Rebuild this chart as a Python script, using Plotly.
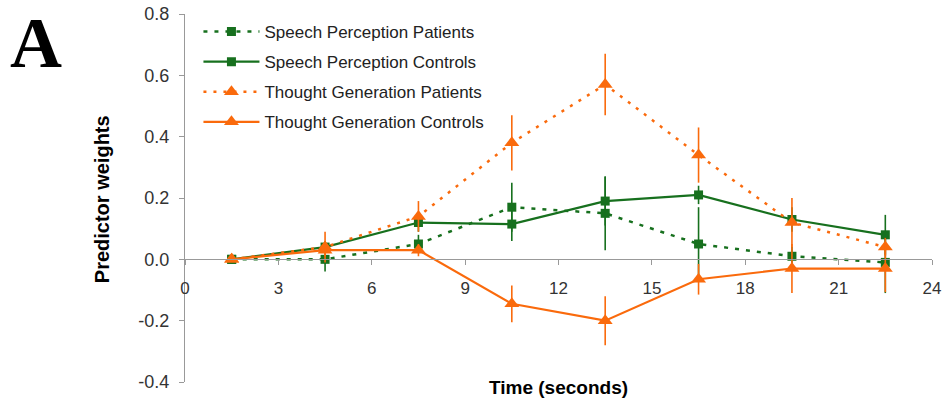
import plotly.graph_objects as go

# ---- data ----
time_s = [1.5, 4.5, 7.5, 10.5, 13.5, 16.5, 19.5, 22.5]

sp_patients = [0.00, 0.00, 0.05, 0.17, 0.15, 0.05, 0.01, -0.01]
sp_patients_err = [0.00, 0.04, 0.03, 0.08, 0.12, 0.12, 0.03, 0.10]

sp_controls = [0.00, 0.04, 0.12, 0.115, 0.19, 0.21, 0.13, 0.08]
sp_controls_err = [0.00, 0.02, 0.03, 0.055, 0.08, 0.03, 0.04, 0.065]

tg_patients = [0.00, 0.04, 0.14, 0.38, 0.57, 0.34, 0.12, 0.04]
tg_patients_err = [0.00, 0.05, 0.05, 0.09, 0.10, 0.09, 0.08, 0.03]

tg_controls = [0.00, 0.03, 0.03, -0.145, -0.20, -0.065, -0.03, -0.03]
tg_controls_err = [0.00, 0.02, 0.02, 0.06, 0.08, 0.05, 0.08, 0.077]

names = ["Speech Perception Patients", "Speech Perception Controls",
         "Thought Generation Patients", "Thought Generation Controls"]

x_ticks = [0, 3, 6, 9, 12, 15, 18, 21, 24]
y_ticks = [-0.4, -0.2, 0.0, 0.2, 0.4, 0.6, 0.8]
y_tick_text = ["-0.4", "-0.2", "0.0", "0.2", "0.4", "0.6", "0.8"]

GREEN = "#17701e"
ORANGE = "#fa6a0c"

series = [
    (names[0], sp_patients, sp_patients_err, GREEN, "4px,7px", "square", 9, 2.5),
    (names[1], sp_controls, sp_controls_err, GREEN, "solid", "square", 9, 2.2),
    (names[2], tg_patients, tg_patients_err, ORANGE, "3px,7px", "triangle-up", 13, 2.5),
    (names[3], tg_controls, tg_controls_err, ORANGE, "solid", "triangle-up", 13, 2.2),
]

fig = go.Figure()
for i, (nm, ys, es, col, dash, sym, msize, lw) in enumerate(series):
    fig.add_trace(go.Scatter(
        x=time_s, y=ys, name=nm, mode="lines+markers",
        legendgroup=f"g{i}",
        line=dict(color=col, width=lw, dash=dash),
        marker=dict(color=col, symbol=sym, size=msize, line=dict(width=0)),
        error_y=dict(type="data", array=es, visible=True, color=col,
                     thickness=1.6, width=0),
    ))

fig.update_layout(
    width=945, height=410,
    margin=dict(l=185, r=13, t=14, b=28),
    paper_bgcolor="white", plot_bgcolor="white",
    font=dict(family="Liberation Sans, Arial, sans-serif", size=17, color="#333"),
    showlegend=True,
    legend=dict(
        x=0.018, y=1.0, xanchor="left", yanchor="top",
        bgcolor="rgba(0,0,0,0)", borderwidth=0,
        font=dict(size=17, color="#222"),
        itemwidth=56, tracegroupgap=5,
    ),
    xaxis=dict(
        range=[0, 24], tickvals=x_ticks, ticktext=[str(v) for v in x_ticks],
        showgrid=False, zeroline=False, automargin=False,
        showline=True, linecolor="#999", linewidth=1.2,
        ticks="outside", ticklen=5, tickcolor="#999",
        anchor="free", position=1/3,
        ticklabelstandoff=8,
        tickfont=dict(size=17, color="#333"),
    ),
    yaxis=dict(
        range=[-0.4, 0.8], tickvals=y_ticks, ticktext=y_tick_text,
        showgrid=False, zeroline=False, automargin=False,
        showline=True, linecolor="#999", linewidth=1.2,
        ticks="outside", ticklen=5, tickcolor="#999",
        ticklabelstandoff=6,
        tickfont=dict(size=18, color="#333"),
    ),
    annotations=[
        dict(text="<b>A</b>", xref="paper", yref="paper", x=-0.2, y=1.036,
             xanchor="center", yanchor="top", showarrow=False,
             font=dict(family="Liberation Serif, Times New Roman, serif", size=72, color="black")),
        dict(text="<b>Predictor weights</b>", xref="paper", yref="paper",
             x=-0.111, y=0.497, xanchor="center", yanchor="middle", textangle=-90,
             showarrow=False, font=dict(size=20, color="black")),
        dict(text="<b>Time (seconds)</b>", xref="paper", yref="paper",
             x=0.5, y=-0.016, xanchor="center", yanchor="middle",
             showarrow=False, font=dict(size=19, color="black")),
    ],
)

fig.write_html("out.html",
               config={"displayModeBar": False},
               post_script="document.body.style.margin='0';document.body.style.overflow='hidden';")
